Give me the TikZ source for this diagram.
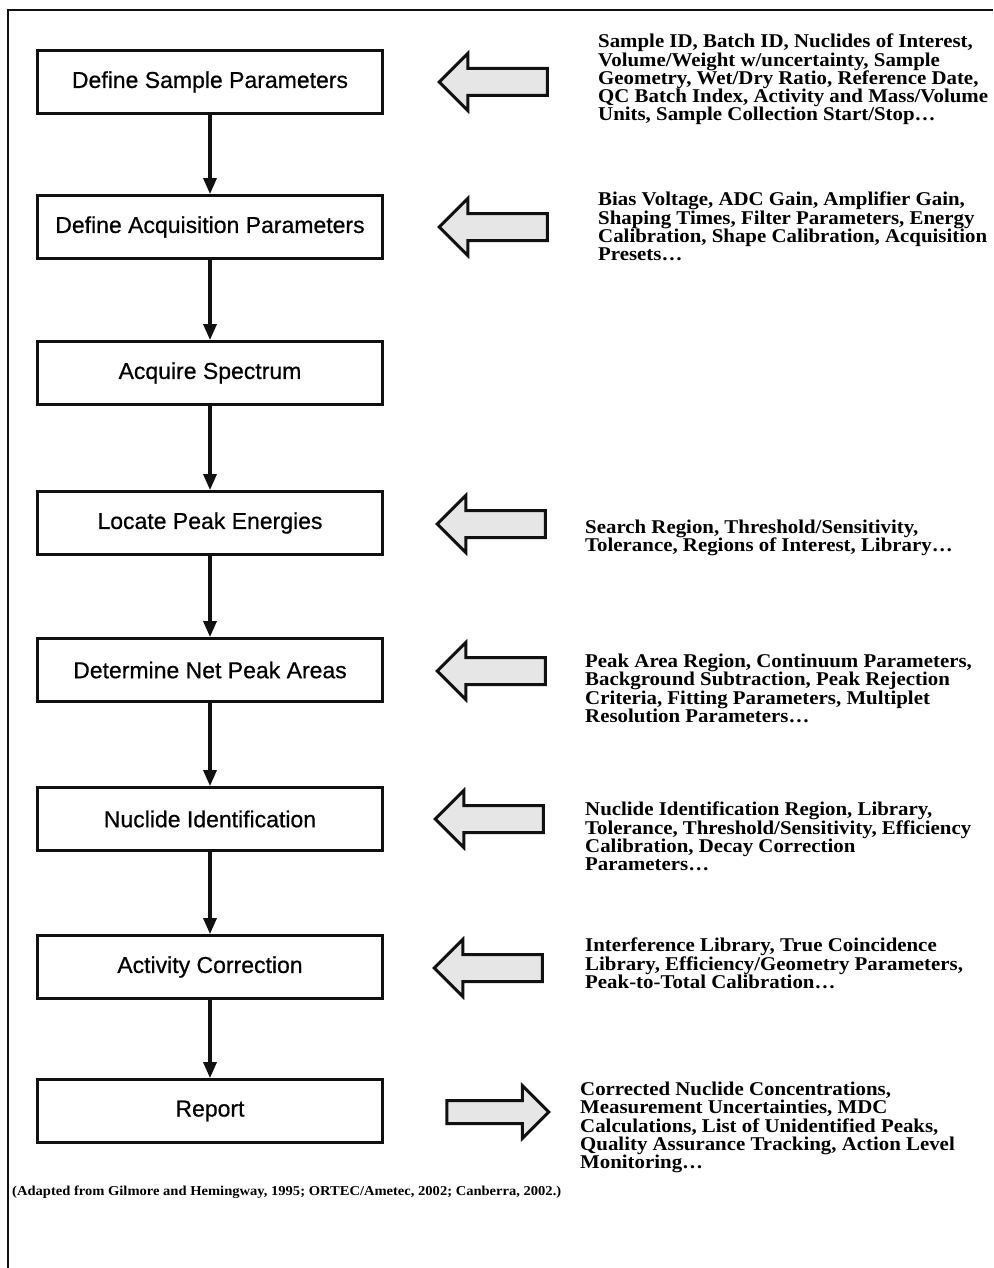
\documentclass[tikz,border=0pt]{standalone}
\usepackage{fontspec}
\setmainfont{Liberation Serif}
\setsansfont{Liberation Sans}
\newfontfamily\notefont{Liberation Serif}[FakeStretch=1.07]
\newfontfamily\stagefont{Liberation Sans}[FakeBold=0.6]
\usetikzlibrary{arrows.meta,shapes.arrows}
\definecolor{ink}{HTML}{111111}
\definecolor{speck}{HTML}{E6E6E6}

\begin{document}
\begin{tikzpicture}[x=1pt,y=-1pt,>={Triangle[length=16pt,width=13pt]},
    stage/.style={draw=ink,line width=2.8pt,minimum width=345pt,minimum height=63pt,
      inner sep=0pt,font=\stagefont\fontsize{23}{25}\selectfont},
    flow/.style={->,line width=3.3pt,ink},
    feed/.style={single arrow,draw=ink,line width=3pt,fill=speck,inner xsep=0pt,
      inner ysep=12pt,text height=0pt,text depth=0pt,minimum height=108pt,
      single arrow head extend=15pt,single arrow head indent=0pt},
    info/.style={anchor=north west,align=left,inner sep=0pt,
      font=\notefont\bfseries\fontsize{19.5}{18.2}\selectfont}]
      % page and frame (only top and left edges show)
      \useasboundingbox (0,0) rectangle (993,1268);
      \draw[ink,line width=2pt] (8,1268) -- (8,10) -- (993,10);

      % processing stages
      \pgfmathsetmacro{\xStage}{210}
      \node[stage] (sample)  at (\xStage,82)   {Define Sample Parameters};
      \node[stage] (acq)     at (\xStage,227)  {Define Acquisition Parameters};
      \node[stage] (spec)    at (\xStage,373)  {Acquire Spectrum};
      \node[stage] (peaks)   at (\xStage,523)  {Locate Peak Energies};
      \node[stage] (areas)   at (\xStage,670)  {Determine Net Peak Areas};
      \node[stage] (ident)   at (\xStage,819)  {Nuclide Identification};
      \node[stage] (corr)    at (\xStage,967)  {Activity Correction};
      \node[stage] (report)  at (\xStage,1111) {Report};

      \foreach \a/\b in {sample/acq,acq/spec,spec/peaks,peaks/areas,
                         areas/ident,ident/corr,corr/report}
        \draw[flow] (\a) -- (\b);

      % inputs and output
      \node[feed,shape border rotate=180] (inSample) at (500,82)  {};
      \node[feed,shape border rotate=180] (inAcq)    at (500,227) {};
      \node[feed,shape border rotate=180] (inPeaks)  at (498,524) {};
      \node[feed,shape border rotate=180] (inAreas)  at (498,671) {};
      \node[feed,shape border rotate=180] (inIdent)  at (496,819) {};
      \node[feed,shape border rotate=180] (inCorr)   at (495,968) {};
      \node[feed,inner ysep=10pt,minimum height=102pt] (outReport) at (492,1112) {};

      \node[info] (txSample) at (598,34) {Sample ID, Batch ID, Nuclides of Interest,\\
        Volume/Weight w/uncertainty, Sample\\ Geometry, Wet/Dry Ratio, Reference Date,\\
        QC Batch Index, Activity and Mass/Volume\\ Units, Sample Collection Start/Stop\ldots};
      \node[info] (txAcq) at (598,192) {Bias Voltage, ADC Gain, Amplifier Gain,\\
        Shaping Times, Filter Parameters, Energy\\ Calibration, Shape Calibration, Acquisition\\
        Presets\ldots};
      \node[info] (txPeaks) at (585,520) {Search Region, Threshold/Sensitivity,\\
        Tolerance, Regions of Interest, Library\ldots};
      \node[info] (txAreas) at (585,654) {Peak Area Region, Continuum Parameters,\\
        Background Subtraction, Peak Rejection\\ Criteria, Fitting Parameters, Multiplet\\
        Resolution Parameters\ldots};
      \node[info] (txIdent) at (585,802) {Nuclide Identification Region, Library,\\
        Tolerance, Threshold/Sensitivity, Efficiency\\ Calibration, Decay Correction\\
        Parameters\ldots};
      \node[info] (txCorr) at (585,938) {Interference Library, True Coincidence\\
        Library, Efficiency/Geometry Parameters,\\ Peak-to-Total Calibration\ldots};
      \node[info] (txReport) at (580,1082) {Corrected Nuclide Concentrations,\\
        Measurement Uncertainties, MDC\\ Calculations, List of Unidentified Peaks,\\
        Quality Assurance Tracking, Action Level\\ Monitoring\ldots};

      % source note
      \node[anchor=west,inner sep=0pt,font=\notefont\bfseries\fontsize{13.6}{15}\selectfont]
        (note) at (12,1192) {(Adapted from Gilmore and Hemingway, 1995; ORTEC/Ametec, 2002; Canberra, 2002.)};
    \end{tikzpicture}
\end{document}
